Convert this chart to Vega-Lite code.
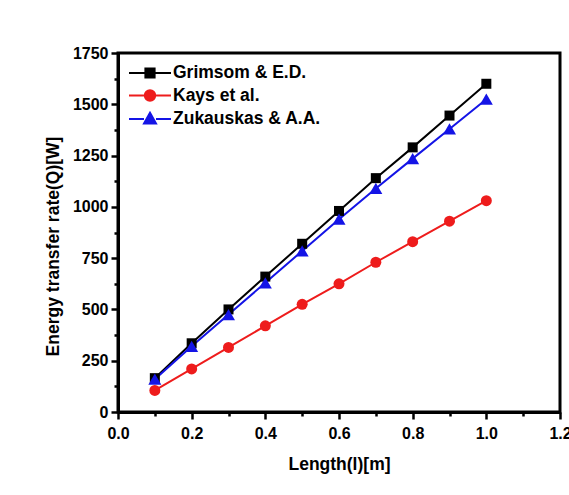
{
  "$schema": "https://vega.github.io/schema/vega-lite/v6.json",
  "width": 442,
  "height": 359,
  "autosize": "none",
  "padding": {"left": 118, "top": 53, "right": 9, "bottom": 83},
  "background": "white",
  "config": {
    "view": {"stroke": "black", "strokeWidth": 3},
    "font": "Liberation Sans",
    "axis": {
      "domainColor": "black",
      "domainWidth": 3,
      "tickColor": "black",
      "tickWidth": 2.5,
      "grid": false,
      "labelFont": "Liberation Sans",
      "labelFontWeight": "bold",
      "labelFontSize": 16,
      "labelColor": "black",
      "titleFont": "Liberation Sans",
      "titleFontWeight": "bold",
      "titleFontSize": 17.5,
      "titleColor": "black"
    }
  },
  "data": {
    "values": [
      {"series": "Grimsom & E.D.", "length": 0.1, "q": 165},
      {"series": "Grimsom & E.D.", "length": 0.2, "q": 335},
      {"series": "Grimsom & E.D.", "length": 0.3, "q": 500},
      {"series": "Grimsom & E.D.", "length": 0.4, "q": 660},
      {"series": "Grimsom & E.D.", "length": 0.5, "q": 820},
      {"series": "Grimsom & E.D.", "length": 0.6, "q": 980},
      {"series": "Grimsom & E.D.", "length": 0.7, "q": 1140},
      {"series": "Grimsom & E.D.", "length": 0.8, "q": 1290},
      {"series": "Grimsom & E.D.", "length": 0.9, "q": 1445},
      {"series": "Grimsom & E.D.", "length": 1.0, "q": 1600},
      {"series": "Kays et al.", "length": 0.1, "q": 105},
      {"series": "Kays et al.", "length": 0.2, "q": 210},
      {"series": "Kays et al.", "length": 0.3, "q": 315},
      {"series": "Kays et al.", "length": 0.4, "q": 420},
      {"series": "Kays et al.", "length": 0.5, "q": 525},
      {"series": "Kays et al.", "length": 0.6, "q": 625},
      {"series": "Kays et al.", "length": 0.7, "q": 730},
      {"series": "Kays et al.", "length": 0.8, "q": 830},
      {"series": "Kays et al.", "length": 0.9, "q": 930},
      {"series": "Kays et al.", "length": 1.0, "q": 1030},
      {"series": "Zukauskas & A.A.", "length": 0.1, "q": 160},
      {"series": "Zukauskas & A.A.", "length": 0.2, "q": 320},
      {"series": "Zukauskas & A.A.", "length": 0.3, "q": 475},
      {"series": "Zukauskas & A.A.", "length": 0.4, "q": 630},
      {"series": "Zukauskas & A.A.", "length": 0.5, "q": 785},
      {"series": "Zukauskas & A.A.", "length": 0.6, "q": 940},
      {"series": "Zukauskas & A.A.", "length": 0.7, "q": 1090},
      {"series": "Zukauskas & A.A.", "length": 0.8, "q": 1235},
      {"series": "Zukauskas & A.A.", "length": 0.9, "q": 1380},
      {"series": "Zukauskas & A.A.", "length": 1.0, "q": 1525}
    ]
  },
  "encoding": {
    "x": {
      "field": "length",
      "type": "quantitative",
      "scale": {"domain": [0, 1.2], "nice": false, "zero": false},
      "axis": {
        "title": "Length(l)[m]",
        "values": [0, 0.1, 0.2, 0.3, 0.4, 0.5, 0.6, 0.7, 0.8, 0.9, 1.0, 1.1, 1.2],
        "labelExpr": "round(datum.value * 10) % 2 == 0 ? format(datum.value, '.1f') : ''",
        "tickSize": {"condition": {"test": "round(datum.value * 10) % 2 == 0", "value": 7}, "value": 4},
        "labelPadding": 6,
        "titlePadding": 14,
        "labelFlush": false,
        "labelOverlap": false
      }
    },
    "y": {
      "field": "q",
      "type": "quantitative",
      "scale": {"domain": [0, 1750], "nice": false},
      "axis": {
        "title": "Energy transfer rate(Q)[W]",
        "values": [0, 125, 250, 375, 500, 625, 750, 875, 1000, 1125, 1250, 1375, 1500, 1625, 1750],
        "labelExpr": "round(datum.value / 125) % 2 == 0 ? datum.value : ''",
        "tickSize": {"condition": {"test": "round(datum.value / 125) % 2 == 0", "value": 7}, "value": 4},
        "labelPadding": 3,
        "titlePadding": 10,
        "titleY": 193,
        "labelFlush": false,
        "labelOverlap": false
      }
    },
    "color": {
      "field": "series",
      "type": "nominal",
      "scale": {
        "domain": ["Grimsom & E.D.", "Kays et al.", "Zukauskas & A.A."],
        "range": ["#000000", "#ee1c1c", "#1414e6"]
      },
      "legend": {
        "title": null,
        "orient": "none",
        "legendX": 21,
        "legendY": 9,
        "symbolSize": 400,
        "labelFont": "Liberation Sans",
        "labelFontWeight": "bold",
        "labelFontSize": 17.5,
        "labelColor": "black",
        "labelOffset": 12,
        "rowPadding": 2.5,
        "symbolStrokeWidth": 2,
        "symbolOpacity": 1,
        "encode": {
          "symbols": {
            "update": {
              "stroke": {"scale": "color", "field": "value"},
              "strokeWidth": {"value": 2}
            }
          }
        }
      }
    }
  },
  "layer": [
    {"mark": {"type": "line", "strokeWidth": 2}},
    {
      "transform": [{"filter": "datum.series == 'Grimsom & E.D.'"}],
      "mark": {"type": "point", "filled": true, "opacity": 1, "shape": "square", "size": 100}
    },
    {
      "transform": [{"filter": "datum.series == 'Kays et al.'"}],
      "mark": {"type": "point", "filled": true, "opacity": 1, "shape": "circle", "size": 121}
    },
    {
      "transform": [{"filter": "datum.series == 'Zukauskas & A.A.'"}],
      "mark": {"type": "point", "filled": true, "opacity": 1, "shape": "triangle-up", "size": 169}
    },
    {
      "transform": [{"filter": "false"}],
      "mark": {"type": "point", "filled": true, "opacity": 1},
      "encoding": {
        "shape": {
          "field": "series",
          "type": "nominal",
          "scale": {
            "domain": ["Grimsom & E.D.", "Kays et al.", "Zukauskas & A.A."],
            "range": [
              "M-2.1,0H-0.46M0.46,0H2.1M-0.46,-0.46H0.46V0.46H-0.46Z",
              "M-2.1,0H-0.52M0.52,0H2.1M0.52,0A0.52,0.52,0,1,1,-0.52,0A0.52,0.52,0,1,1,0.52,0Z",
              "M-2.1,0H-0.6M0.6,0H2.1M0,-0.62L0.6,0.46H-0.6Z"
            ]
          },
          "legend": {"title": null}
        }
      }
    }
  ]
}
